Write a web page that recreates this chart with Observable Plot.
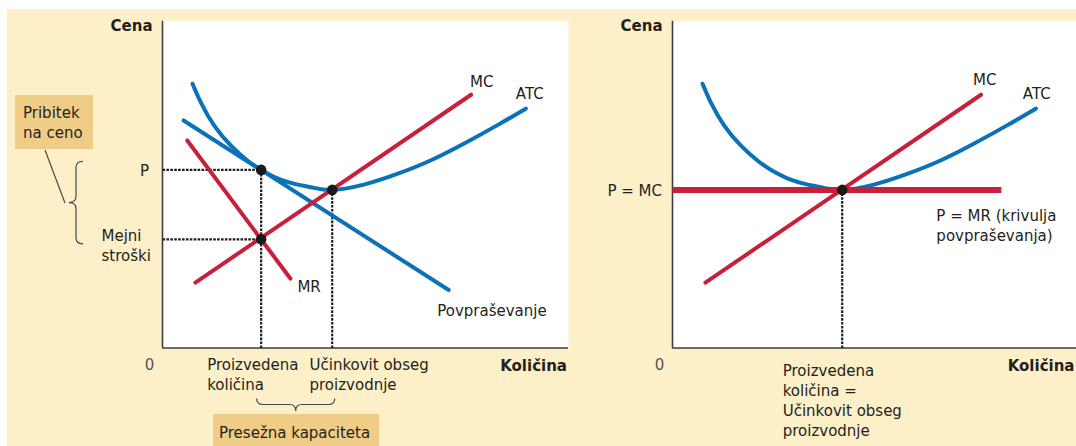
<!DOCTYPE html>
<html>
<head>
<meta charset="utf-8">
<script src="https://cdn.jsdelivr.net/npm/d3@7"></script>
<script src="https://cdn.jsdelivr.net/npm/@observablehq/plot@0.6"></script>
<style>
  html, body { margin: 0; padding: 0; background: #ffffff; }
  #wrap { position: relative; width: 1076px; height: 446px; overflow: hidden; background: #ffffff; font-family: "DejaVu Sans", sans-serif; color: #231f20; }
  #cream { position: absolute; left: 7px; top: 9px; right: 0; bottom: 0; background: #fdefc8; }
  .panel { position: absolute; top: 0; }
  .box { position: absolute; background: #f0cd87; font-size: 15px; line-height: 20px; color: #231f20; box-sizing: border-box; }
</style>
</head>
<body>
<div id="wrap">
  <div id="cream"></div>
  <div id="left" class="panel" style="left:0px"></div>
  <div id="right" class="panel" style="left:510px"></div>
  <div class="box" style="left:15px; top:95px; width:78px; height:54px; padding:8px 0 0 8px;">Pribitek<br>na ceno</div>
  <div class="box" style="left:213px; top:414px; width:166px; height:40px; padding:9px 0 0 6px;">Presežna kapaciteta</div>
</div>
<script>
// ---------- data (quantity / price units) ----------
const atcQ = [0.74, 0.94, 1.27, 1.68, 2.09, 2.43, 2.91, 3.33, 3.73, 4.18, 4.96, 5.78, 6.60, 7.42, 8.24, 8.95];
const atcP = [6.47, 6.02, 5.45, 4.96, 4.59, 4.36, 4.12, 4.00, 3.92, 3.87, 4.00, 4.26, 4.59, 5.00, 5.45, 5.86];
const mcQ = [0.81, 7.60];
const mcP = [1.60, 6.20];
const demandQ = [0.52, 7.05];
const demandP = [5.57, 1.42];
const mrQ = [0.61, 3.15];
const mrP = [5.08, 1.70];
const flatQ = [0, 8.10];          // right panel: P = MR (demand curve)
const flatP = 3.87;
// key points (left: monopolistic competition, right: perfect competition)
const qProduced = 2.43;           // left produced quantity
const priceP = 4.36;              // left price P
const mcAtQ = 2.66;               // marginal cost at produced quantity
const qEfficient = 4.18;          // efficient scale
const minATC = 3.87;              // minimum of ATC

// ---------- text ----------
const yTitle = "Cena";
const xTitle = "Količina";
const zeroLabel = "0";
const mcName = "MC", atcName = "ATC", mrName = "MR", demandName = "Povpraševanje";
const pLabel = "P", mcLabel = "Mejni\nstroški";
const producedLabel = "Proizvedena\nkoličina";
const efficientLabel = "Učinkovit obseg\nproizvodnje";
const rightPLabel = "P = MC";
const rightDemandLabel = "P = MR (krivulja\npovpraševanja)";
const rightQLabel = "Proizvedena\nkoličina =\nUčinkovit obseg\nproizvodnje";

// ---------- tables ----------
const atc = atcQ.map((q, i) => ({q, p: atcP[i]}));
const mc = mcQ.map((q, i) => ({q, p: mcP[i]}));
const demand = demandQ.map((q, i) => ({q, p: demandP[i]}));
const mr = mrQ.map((q, i) => ({q, p: mrP[i]}));
const flat = flatQ.map(q => ({q, p: flatP}));

// ---------- style ----------
const RED = "#c8203a", BLUE = "#0b72b9", INK = "#231f20", AXIS = "#3d3d3d";
const W = 580, H = 446;
const M = {left: 162, right: 12, top: 20.7, bottom: 98.5};
const FONT = "DejaVu Sans";

function label(x, y, text, opts = {}) {
  return Plot.text([{x, y, text}], {
    x: "x", y: "y", text: "text", fill: INK, fontFamily: FONT, fontSize: 15,
    lineHeight: 1.333, textAnchor: "start", ...opts
  });
}
function dotted(x1, y1, x2, y2) {
  return Plot.link([{x1, y1, x2, y2}], {x1: "x1", y1: "y1", x2: "x2", y2: "y2",
    stroke: "#1e1e1e", strokeWidth: 2.2, strokeDasharray: "2.6,1.3"});
}
function curve(data, color, extra = {}) {
  return Plot.line(data, {x: "q", y: "p", stroke: color, strokeWidth: 4, strokeLinecap: "round", ...extra});
}
function axes() {
  return [
    Plot.frame({fill: "white", stroke: null}),
    Plot.ruleX([0], {stroke: AXIS, strokeWidth: 1.6}),
    Plot.ruleY([0], {stroke: AXIS, strokeWidth: 1.6})
  ];
}
function axisTexts(xTitleDx) {
  return [
    label(0, 8, yTitle, {textAnchor: "end", dx: -10, dy: 3.5, fontWeight: "bold"}),
    label(0, 0, zeroLabel, {textAnchor: "middle", dx: -13, dy: 15.5, fill: "#555"}),
    label(10, 0, xTitle, {textAnchor: "end", dx: xTitleDx, dy: 16.5, fontWeight: "bold"})
  ];
}
function makePlot(marks) {
  return Plot.plot({
    width: W, height: H,
    marginLeft: M.left, marginRight: M.right, marginTop: M.top, marginBottom: M.bottom,
    x: {domain: [0, 10], axis: null},
    y: {domain: [0, 8], axis: null},
    style: {background: "transparent", overflow: "visible", fontFamily: FONT, fontSize: "15px", maxWidth: "none"},
    marks
  });
}

// decorative braces, placed through the plot's scales
function braces(index, scales) {
  const sx = scales.x, sy = scales.y;
  const g = d3.create("svg:g").attr("fill", "none").attr("stroke", "#4a4a4a").attr("stroke-width", 1.2);
  // left "{" brace between P and MC
  const y1 = sy(priceP) - 8, y2 = sy(mcAtQ) + 5, yc = (y1 + y2) / 2;
  const x0 = 83, xm = 76, xt = 69, r = 6;
  g.append("path").attr("d",
    `M${x0},${y1} Q${xm},${y1} ${xm},${y1 + r} L${xm},${yc - r} Q${xm},${yc} ${xt},${yc}` +
    ` Q${xm},${yc} ${xm},${yc + r} L${xm},${y2 - r} Q${xm},${y2} ${x0},${y2}`);
  // connector from "Pribitek na ceno" box
  g.append("line").attr("x1", 45).attr("y1", 150).attr("x2", 65).attr("y2", 203);
  // bottom brace between produced and efficient quantities
  const bx1 = sx(qProduced) - 4, bx2 = sx(qEfficient) + 3, bxc = (bx1 + bx2) / 2;
  const b0 = sy(0) + 51, bm = sy(0) + 57, bt = sy(0) + 63.5;
  g.append("path").attr("d",
    `M${bx1},${b0} Q${bx1},${bm} ${bx1 + r},${bm} L${bxc - r},${bm} Q${bxc},${bm} ${bxc},${bt}` +
    ` Q${bxc},${bm} ${bxc + r},${bm} L${bx2 - r},${bm} Q${bx2},${bm} ${bx2},${b0}`);
  return g.node();
}

// ---------- left panel ----------
const left = makePlot([
  ...axes(),
  dotted(0, priceP, qProduced, priceP),
  dotted(0, mcAtQ, qProduced, mcAtQ),
  dotted(qProduced, 0, qProduced, priceP),
  dotted(qEfficient, 0, qEfficient, minATC),
  curve(atc, BLUE, {curve: "natural"}),
  curve(demand, BLUE),
  curve(mr, RED),
  curve(mc, RED),
  Plot.dot([{q: qProduced, p: priceP}, {q: qProduced, p: mcAtQ}, {q: qEfficient, p: minATC}],
    {x: "q", y: "p", r: 5.3, fill: "#1a1a1a"}),
  label(mcQ[1], mcP[1], mcName, {dx: -1, dy: -14}),
  label(atcQ[atcQ.length - 1], atcP[atcP.length - 1], atcName, {dx: -10, dy: -16}),
  label(mrQ[1], mrP[1], mrName, {dx: 7, dy: 7}),
  label(demandQ[1], demandP[1], demandName, {dx: -11.5, dy: 20}),
  label(0, priceP, pLabel, {textAnchor: "end", dx: -13.5}),
  label(0, mcAtQ, mcLabel, {dx: -61, dy: 5}),
  label(qProduced, 0, producedLabel, {dx: -54, dy: 25.5}),
  label(qEfficient, 0, efficientLabel, {dx: -22.7, dy: 25.5}),
  ...axisTexts(-1.5),
  braces
]);
document.getElementById("left").appendChild(left);

// ---------- right panel ----------
const right = makePlot([
  ...axes(),
  dotted(qEfficient, 0, qEfficient, minATC),
  curve(atc, BLUE, {curve: "natural"}),
  curve(mc, RED),
  curve(flat, RED, {strokeWidth: 6, strokeLinecap: "butt"}),
  Plot.dot([{q: qEfficient, p: minATC}], {x: "q", y: "p", r: 5.3, fill: "#1a1a1a"}),
  label(mcQ[1], mcP[1], mcName, {dx: -8, dy: -16}),
  label(atcQ[atcQ.length - 1], atcP[atcP.length - 1], atcName, {dx: -13, dy: -16}),
  label(0, flatP, rightPLabel, {textAnchor: "end", dx: -10.5}),
  label(flatQ[1], flatP, rightDemandLabel, {dx: -65, dy: 34.5}),
  label(qEfficient, 0, rightQLabel, {dx: -59.5, dy: 51.3}),
  ...axisTexts(-4)
]);
document.getElementById("right").appendChild(right);
</script>
</body>
</html>
